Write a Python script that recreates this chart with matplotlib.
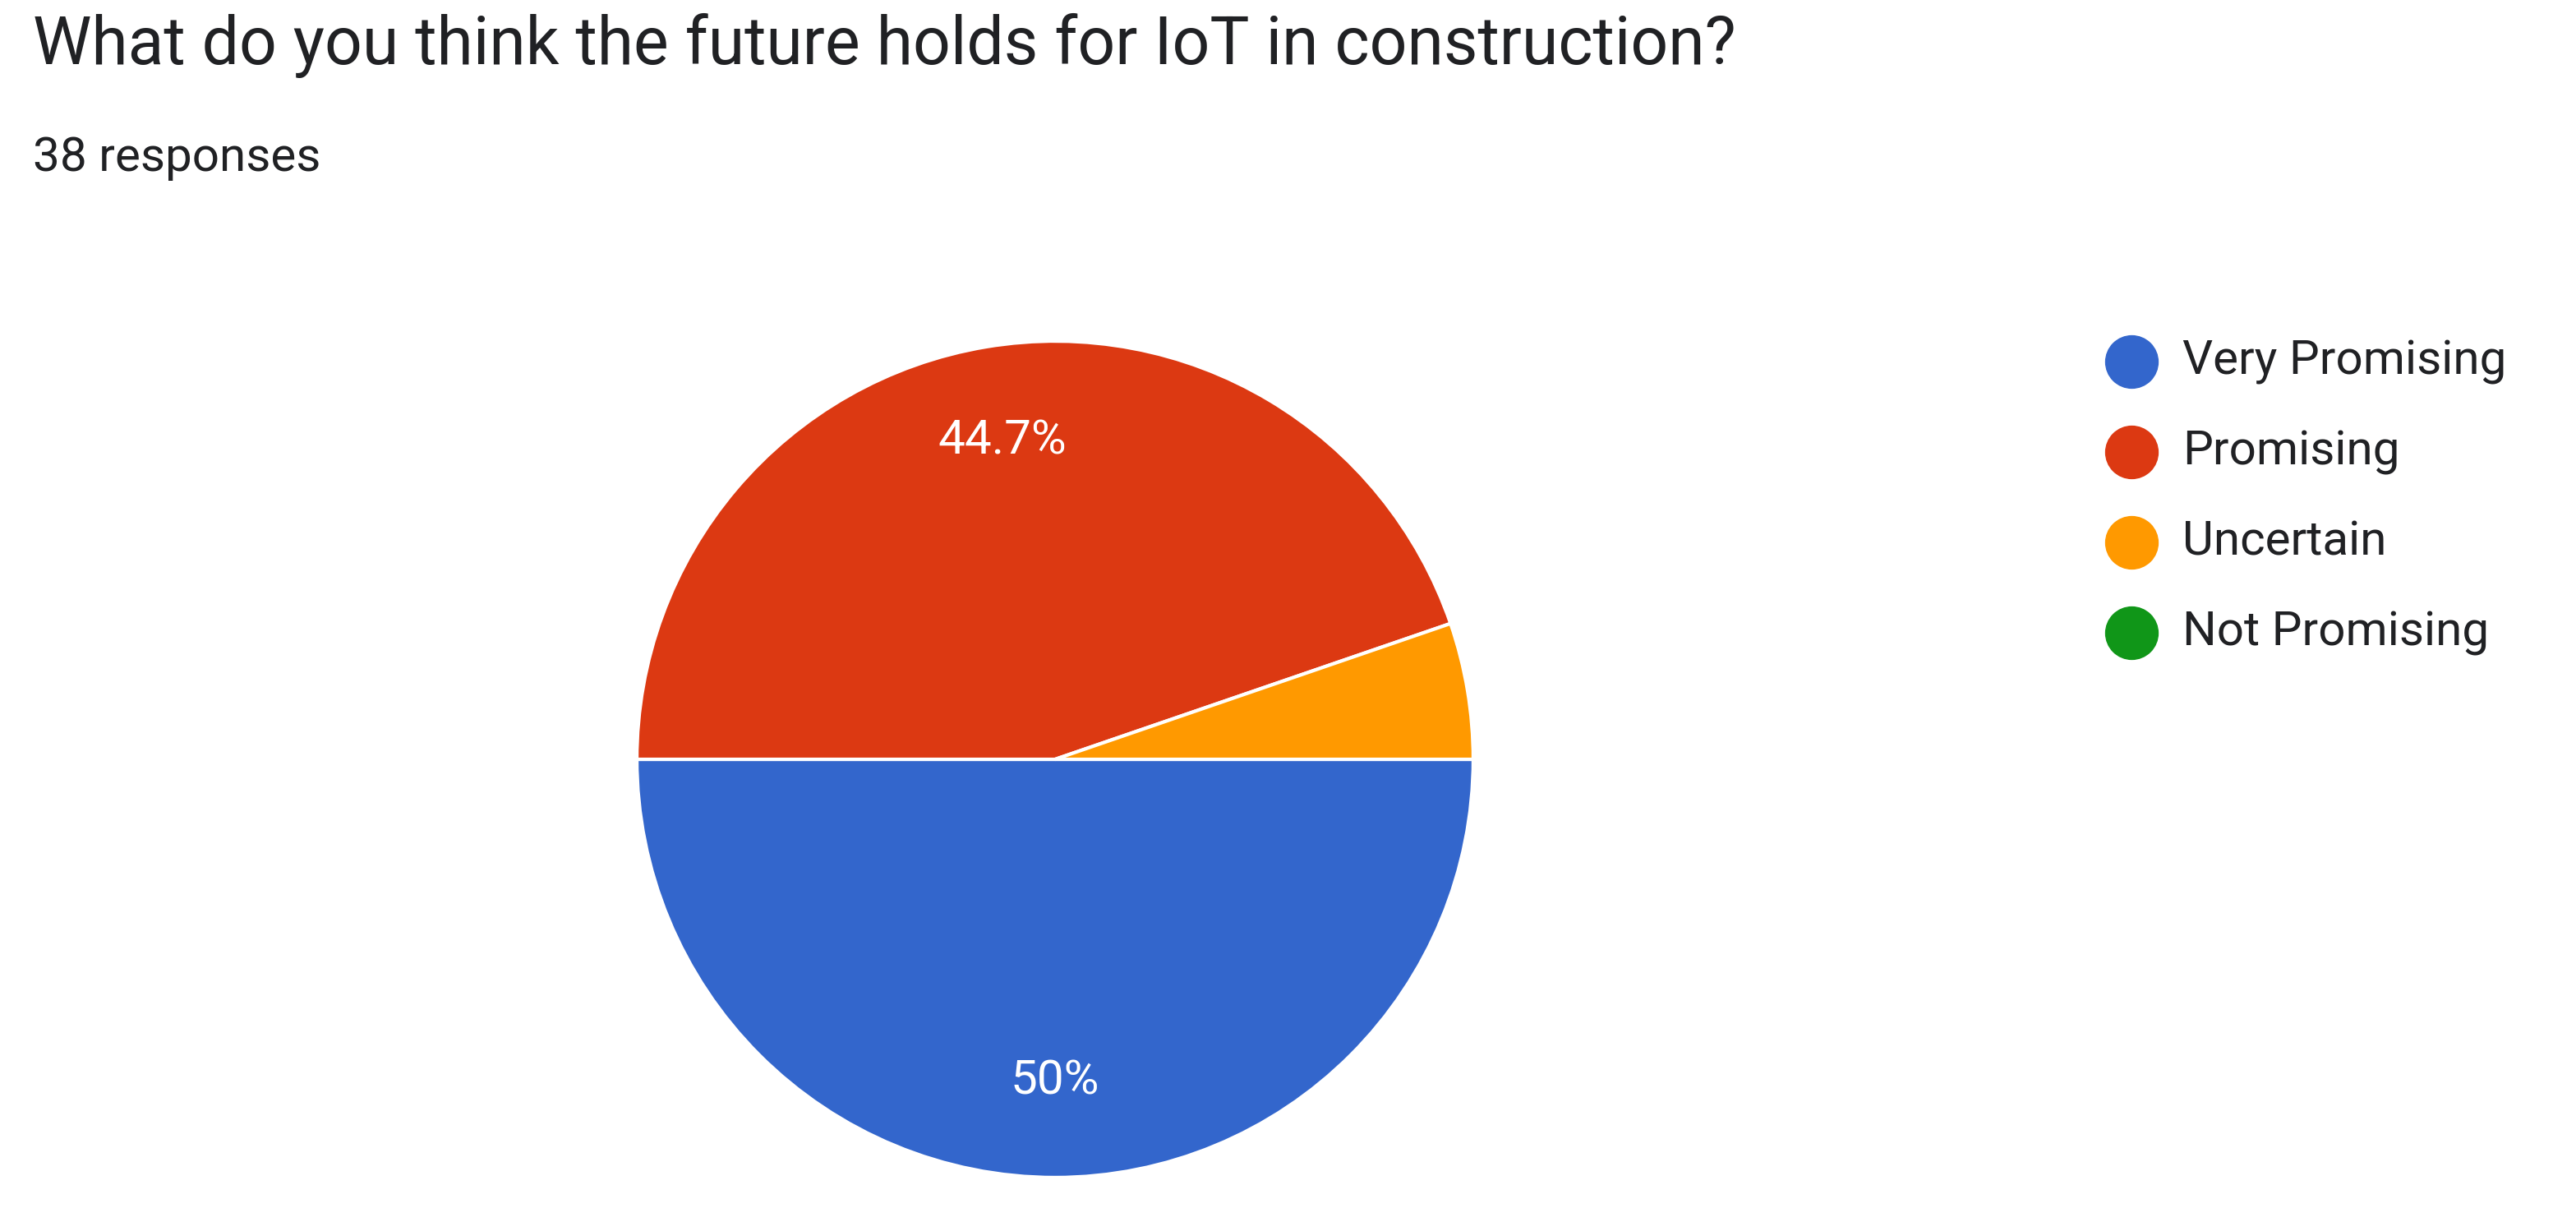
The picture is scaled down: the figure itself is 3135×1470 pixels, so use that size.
import matplotlib.pyplot as plt
from matplotlib.lines import Line2D

title = "What do you think the future holds for IoT in construction?"
subtitle = "38 responses"
labels = ["Very Promising", "Promising", "Uncertain", "Not Promising"]
counts = [19, 17, 2, 0]
colors = ["#3366cc", "#dc3912", "#ff9900", "#109618"]

plt.rcParams['font.family'] = ['Roboto', 'DejaVu Sans']

fig = plt.figure(figsize=(31.35, 14.7), dpi=100)
W, H = 3135, 1470

fig.text(40 / W, 1 - 78 / H, title, fontsize=58, color="#202124", va="baseline")
fig.text(40 / W, 1 - 208 / H, subtitle, fontsize=42, color="#202124", va="baseline")

ax = fig.add_axes([(1284 - 514) / W, (H - 924 - 514) / H, 1028 / W, 1028 / H])
vals = [c for c in counts if c > 0]
cols = [colors[i] for i, c in enumerate(counts) if c > 0]

def fmt(p):
    if p < 10:
        return ""
    return f"{p:.1f}%" if abs(p - round(p)) > 0.05 else f"{p:.0f}%"

wedges, texts, autotexts = ax.pie(vals, colors=cols, startangle=0, counterclock=False,
                                  autopct=fmt, pctdistance=0.77,
                                  wedgeprops=dict(edgecolor="white", linewidth=3),
                                  textprops=dict(color="white", fontsize=42))
ax.set_xlim(-1.01, 1.01)
ax.set_ylim(-1.01, 1.01)
ax.set_aspect("equal")
ax.axis("off")

for i, (lab, col) in enumerate(zip(labels, colors)):
    y = 1 - (440 + 110 * i) / H
    fig.add_artist(Line2D([2594 / W], [y], marker="o", markersize=46, color=col,
                          linestyle="none", transform=fig.transFigure))
    fig.text(2656 / W, y, lab, fontsize=42, color="#202124", va="center")

fig.savefig("out.png", dpi=100, facecolor="white")
